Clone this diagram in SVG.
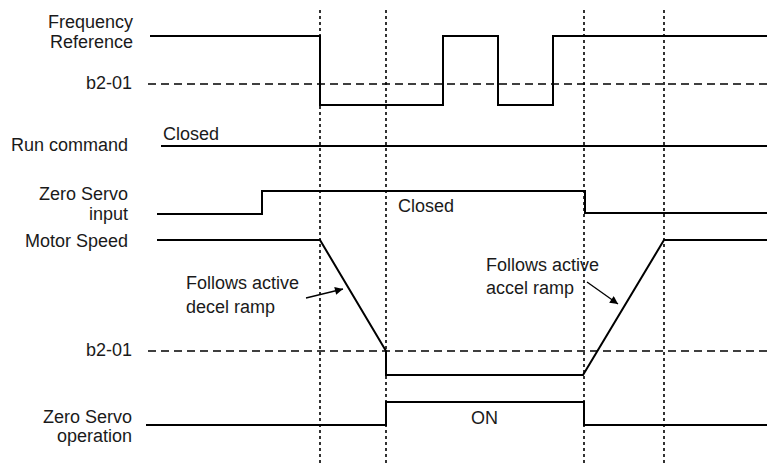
<svg xmlns="http://www.w3.org/2000/svg" width="767" height="467" viewBox="0 0 767 467">
<defs>
<style>
.t{font-family:"Liberation Sans",Arial,sans-serif;font-size:18px;fill:#1a1a1a}
.r{text-anchor:end}
.w{fill:none;stroke:#000;stroke-width:2}
.dot{fill:none;stroke:#000;stroke-width:1.6;stroke-dasharray:3,3}
.dash{fill:none;stroke:#000;stroke-width:1.6;stroke-dasharray:8,5}
.arr{fill:none;stroke:#000;stroke-width:1.3}
</style>
<marker id="ah" viewBox="0 0 10 10" refX="10" refY="5" markerWidth="10" markerHeight="8" markerUnits="userSpaceOnUse" orient="auto"><path d="M0,0 L10,5 L0,10 Z" fill="#000"/></marker>
</defs>
<rect width="767" height="467" fill="#fff"/>
<g id="guides">
<line class="dot" x1="320" y1="10" x2="320" y2="466"/>
<line class="dot" x1="386" y1="10" x2="386" y2="466"/>
<line class="dot" x1="584" y1="10" x2="584" y2="466"/>
<line class="dot" x1="664" y1="10" x2="664" y2="466"/>
<line class="dash" x1="148" y1="84" x2="767" y2="84"/>
<line class="dash" x1="148" y1="351" x2="767" y2="351"/>
</g>
<g id="freq-ref">
<text class="t r" x="133" y="28">Frequency</text>
<text class="t r" x="133" y="48">Reference</text>
<text class="t r" x="132" y="89">b2-01</text>
<polyline class="w" points="150,36 320,36 320,105 443,105 443,36 498,36 498,105 553,105 553,36 767,36"/>
</g>
<g id="run-command">
<text class="t r" x="128" y="151">Run command</text>
<text class="t" x="163" y="140">Closed</text>
<line class="w" x1="161" y1="146" x2="767" y2="146"/>
</g>
<g id="zero-servo-input">
<text class="t r" x="128" y="200">Zero Servo</text>
<text class="t r" x="128" y="220">input</text>
<text class="t" x="398" y="212">Closed</text>
<polyline class="w" points="157,214 262,214 262,191 585,191 585,213 767,213"/>
</g>
<g id="motor-speed">
<text class="t r" x="128" y="247">Motor Speed</text>
<text class="t r" x="132" y="356">b2-01</text>
<polyline class="w" points="157,240 320,240 386,351 386,375 583,375 664,240 767,240"/>
<text class="t" x="186" y="289">Follows active</text>
<text class="t" x="186" y="313">decel ramp</text>
<text class="t" x="486" y="271">Follows active</text>
<text class="t" x="486" y="294">accel ramp</text>
</g>
<g id="zero-servo-operation">
<text class="t r" x="132" y="423">Zero Servo</text>
<text class="t r" x="132" y="442">operation</text>
<text class="t" x="471" y="424">ON</text>
<polyline class="w" points="146,425 386,425 386,402 584,402 584,425 767,425"/>
</g>
<g id="connectors">
<line class="arr" x1="306" y1="298" x2="343" y2="289" marker-end="url(#ah)"/>
<line class="arr" x1="587" y1="282" x2="618" y2="304" marker-end="url(#ah)"/>
</g>
</svg>
